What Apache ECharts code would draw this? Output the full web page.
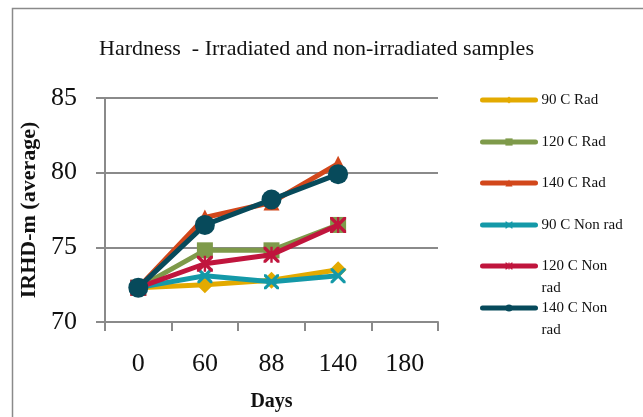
<!DOCTYPE html>
<html><head><meta charset="utf-8">
<script src="https://cdn.jsdelivr.net/npm/echarts@6/dist/echarts.min.js"></script>
<style>html,body{margin:0;padding:0;background:#fff}#c{width:643px;height:417px}</style>
</head><body><div id="c"></div>
<script>
const days = ['0', '60', '88', '140', '180'];
const seriesNames = ['90 C Rad', '120 C Rad', '140 C Rad', '90 C Non rad', '120 C Non rad', '140 C Non rad'];
const rad90 = [72.3, 72.5, 72.8, 73.5];
const rad120 = [72.3, 74.8, 74.8, 76.5];
const rad140 = [72.3, 77.0, 78.0, 80.6];
const non90 = [72.3, 73.1, 72.7, 73.1];
const non120 = [72.3, 73.9, 74.5, 76.5];
const non140 = [72.3, 76.5, 78.2, 79.9];
const yTicks = [70, 75, 80, 85];

const FONT = '"Liberation Serif", serif';
const X_PATH = 'path://M0,0 L3,0 L10,7 L17,0 L20,0 L20,3 L13,10 L20,17 L20,20 L17,20 L10,13 L3,20 L0,20 L0,17 L7,10 L0,3 Z';
const STAR_PATH = 'path://M0,0 L3,0 L10,7 L17,0 L20,0 L20,3 L13,10 L20,17 L20,20 L17,20 L10,13 L3,20 L0,20 L0,17 L7,10 L0,3 Z M8.5,0 L11.5,0 L11.5,20 L8.5,20 Z';

const colors = ['#E3AA00', '#7E9A4A', '#D2471B', '#1499A8', '#C0153D', '#074A5B'];
const symbols = ['diamond', 'rect', 'triangle', X_PATH, STAR_PATH, 'circle'];
const sizes = [17, 16, 16, 15, 16, 20];
const values = [rad90, rad120, rad140, non90, non120, non140];

const series = seriesNames.map((n, i) => ({
  name: n, type: 'line', data: values[i],
  symbol: symbols[i], symbolSize: sizes[i],
  itemStyle: { color: colors[i] },
  lineStyle: { color: colors[i], width: 5 },
  animation: false, z: 2 + i
}));

const legendCenters = [100, 142, 183, 225, 266, 308];
const legendLabels = ['90 C Rad', '120 C Rad', '140 C Rad', '90 C Non rad', '\n120 C Non\nrad', '\n140 C Non\nrad'];
const legends = seriesNames.map((n, i) => {
  const multi = legendLabels[i].startsWith('\n');
  const lh = 22;
  return {
    data: [n], left: 475, top: legendCenters[i] - 5 - (multi ? 1.5 * lh : lh / 2),
    itemWidth: 53, itemHeight: 9, itemGap: 0,
    formatter: () => legendLabels[i],
    lineStyle: { width: 5, cap: 'round' },
    textStyle: { fontFamily: FONT, fontSize: 15, color: '#111', lineHeight: lh, padding: [0, 0, 0, 1] },
    selectedMode: false
  };
});

const chart = echarts.init(document.getElementById('c'), null, { renderer: 'canvas' });
chart.setOption({
  animation: false,
  backgroundColor: '#fff',
  title: {
    text: 'Hardness  - Irradiated and non-irradiated samples',
    left: 94, top: 33,
    textStyle: { fontFamily: FONT, fontSize: 22, fontWeight: 'normal', color: '#111' }
  },
  graphic: [
    { type: 'polyline', shape: { points: [[12.5, 417], [12.5, 8.5], [643, 8.5]] },
      style: { stroke: '#8a8a8a', lineWidth: 1.5, fill: null }, silent: true }
  ],
  legend: legends,
  grid: { left: 105, right: 205, top: 98, bottom: 95, containLabel: false },
  xAxis: {
    type: 'category', data: days, boundaryGap: true,
    name: 'Days', nameLocation: 'middle', nameGap: 70,
    nameTextStyle: { fontFamily: FONT, fontSize: 20, fontWeight: 'bold', color: '#111' },
    axisLine: { lineStyle: { color: '#8a8a8a', width: 2 } },
    axisTick: { show: true, length: 9, lineStyle: { color: '#8a8a8a', width: 2 } },
    axisLabel: { fontFamily: FONT, fontSize: 26, color: '#111', margin: 29 },
    splitLine: { show: false }
  },
  yAxis: {
    type: 'value', min: yTicks[0], max: yTicks[yTicks.length - 1], interval: 5,
    name: 'IRHD-m (average)', nameLocation: 'middle', nameGap: 63, nameRotate: 90,
    nameTextStyle: { fontFamily: FONT, fontSize: 22, fontWeight: 'bold', color: '#111' },
    axisLine: { show: true, lineStyle: { color: '#8a8a8a', width: 2 } },
    axisTick: { show: true, length: 9, lineStyle: { color: '#8a8a8a', width: 2 } },
    axisLabel: { fontFamily: FONT, fontSize: 26, color: '#111', margin: 28 },
    splitLine: { show: true, lineStyle: { color: '#8a8a8a', width: 2 } }
  },
  series: series
});
</script></body></html>
